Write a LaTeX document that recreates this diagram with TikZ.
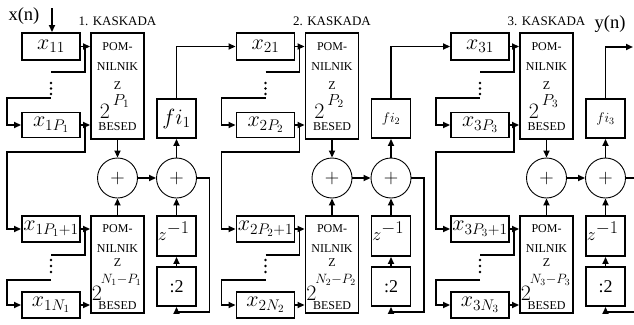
\RequirePackage{fix-cm}
\documentclass[tikz,border=0pt]{standalone}
\usepackage[no-math]{fontspec}
\setmainfont{Liberation Serif}
\usetikzlibrary{arrows.meta}
\begin{document}
\begin{tikzpicture}[x=1pt,y=-1pt,line width=1.8pt,
  arr/.style={-{Triangle[length=7pt,width=6pt]}},
  reg/.style={draw,line width=1.9pt,minimum width=58pt,inner sep=0pt,font=\fontsize{22}{22}\selectfont},
  pom/.style={draw,line width=1.9pt,minimum width=53pt,inner sep=0pt},
  sq/.style={draw,line width=1.9pt,minimum width=39pt,minimum height=39pt,inner sep=0pt},
  sum/.style={draw,circle,line width=0.9pt,minimum size=40pt,inner sep=0pt,font=\fontsize{20}{20}\selectfont},
  sm/.style={inner sep=0pt,font=\fontsize{12}{12}\selectfont},
  lbl/.style={inner sep=0pt,font=\fontsize{13}{13}\selectfont},
  big/.style={inner sep=0pt,font=\fontsize{18.5}{18.5}\selectfont}]
\useasboundingbox (0,0) rectangle (634,324);
\foreach \i/\dx/\fs in {1/0/22,2/214.5/14,3/429/14}{
\begin{scope}[xshift=\dx pt]
  \node[lbl] (ka\i) at (117.5,21) {\i. KASKADA};
  \node[reg,minimum height=27pt] (xa\i) at (51,46.5) {$x_{\i 1}$};
  \node[reg,minimum height=25pt] (xb\i) at (51,125) {$x_{\i P_\i}$};
  \node[reg,minimum height=26pt] (xc\i) at (51,229) {$x_{\i P_\i+1}$};
  \node[reg,minimum height=26pt] (xd\i) at (51,305) {$x_{\i N_\i}$};
  \node[pom,minimum height=106pt] (pa\i) at (117.5,86) {};
  \node[pom,minimum height=97pt] (pb\i) at (117.5,264.5) {};
  \node[sq] (fi\i) at (176.5,118.5) {\fontsize{\fs}{\fs}\selectfont$fi_\i$};
  \node[sq,minimum height=40pt] (zz\i) at (176.5,236) {};
  \node[sq,font=\fontsize{18}{18}\selectfont] (hv\i) at (176.5,286.5) {:2};
  \node[sum] (sa\i) at (117.5,178) {$+$};
  \node[sum] (sb\i) at (176.5,178) {$+$};
  % texts inside the POMNILNIK boxes
  \node[sm] (pa1\i) at (117.5,47) {POM-};
  \node[sm] (pa2\i) at (117.5,67) {NILNIK};
  \node[sm] (pa3\i) at (117.5,85.5) {Z};
  \node[inner sep=0pt,font=\fontsize{16}{16}\selectfont] (pa4\i) at (121,101) {$P_\i$};
  \node[inner sep=0pt,font=\fontsize{22}{22}\selectfont] (pa5\i) at (105,111) {$2$};
  \node[sm] (pa6\i) at (117.5,126.5) {BESED};
  \node[sm] (pb1\i) at (117.5,229) {POM-};
  \node[sm] (pb2\i) at (117.5,248.5) {NILNIK};
  \node[sm] (pb3\i) at (117.5,263) {Z};
  \node[inner sep=0pt,font=\fontsize{13.5}{14}\selectfont] (pb4\i) at (121,279.5) {$N_\i{-}P_\i$};
  \node[inner sep=0pt,font=\fontsize{22}{22}\selectfont] (pb5\i) at (97,293) {$2$};
  \node[sm] (pb6\i) at (117.5,306) {BESED};
  \node[inner sep=0pt,anchor=west,font=\fontsize{18}{18}\selectfont] (zt\i) at (157,231) {$z^{\textstyle -1}$};
  % dots
  \foreach \yy in {83,88.5,94,260,266,272}{\fill (51,\yy) circle (1.3pt);}
  \coordinate (ta\i) at (51,72);
  \coordinate (tb\i) at (51,98);
  \coordinate (tc\i) at (51,255);
  \coordinate (td\i) at (51,280);
  \coordinate (ja\i) at (85,47);
  \coordinate (jb\i) at (85,125);
  \coordinate (jc\i) at (85,229);
  % register connections
  \draw[arr] (xa\i.east) -- (xa\i.east -| pa\i.west);
  \draw (ta\i) -| (ja\i);
  \draw[arr] (tb\i) -- ++(-44,0) |- (xb\i.west);
  \draw[arr] (xb\i.east) -- (xb\i.east -| pa\i.west);
  \draw[arr] (jb\i) -- ++(0,27) -- ++(-78,0) |- (xc\i.west);
  \draw[arr] (xc\i.east) -- (xc\i.east -| pb\i.west);
  \draw (tc\i) -| (jc\i);
  \draw[arr] (td\i) -- ++(-44,0) |- (xd\i.west);
  \draw[arr] (xd\i.east) -- (xd\i.east -| pb\i.west);
  % adders
  \draw[arr] (pa\i.south) -- (sa\i.north);
  \draw[arr] (pb\i.north) -- (sa\i.south);
  \draw[arr] (sa\i.east) -- (sb\i.west);
  \draw[arr] (sb\i.north) -- (fi\i.south);
  \draw[arr] (hv\i.north) -- (zz\i.south);
  \draw[arr] (zz\i.north) -- (sb\i.south);
  \draw[arr] (sb\i.east) -- ++(12.5,0) -- ++(0,134) -| (hv\i.south);
\end{scope}
}
\node[big] (xn) at (24,16) {x(n)};
\node[big] (yn) at (610,24) {y(n)};
\coordinate (xin) at (52,8);
\coordinate (yend) at (633,47);
\draw[arr] (xin) -- (xin |- xa1.north);
\draw[arr] (fi1.north) |- (xa2.west);
\draw[arr] (fi2.north) |- (xa3.west);
\draw[arr] (fi3.north) |- (yend);
\end{tikzpicture}
\end{document}
